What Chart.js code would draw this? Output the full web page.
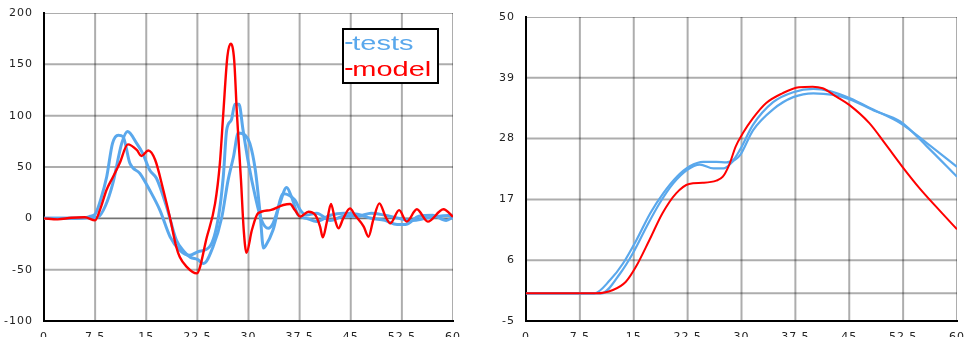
<!DOCTYPE html>
<html>
<head>
<meta charset="utf-8">
<script src="https://cdn.jsdelivr.net/npm/chart.js@4.4.1/dist/chart.umd.min.js"></script>
<style>
  html, body { margin: 0; padding: 0; background: #fff; overflow: hidden; }
  body { width: 966px; height: 337px; position: relative; }
  .panel { position: absolute; top: 0; height: 337px; }
  .panel canvas { display: block; }
  #left-wrap { left: 0; width: 480px; }
  #right-wrap { left: 486px; width: 490px; }
  #legend {
    position: absolute; left: 342px; top: 28px; width: 93px; height: 52px;
    border: 2px solid #000; background: #fff;
    font-family: "Liberation Sans", Arial, sans-serif; font-size: 21px; line-height: 26px;
  }
  #legend div { transform: scaleX(1.38); transform-origin: 0 50%; white-space: nowrap; padding-left: 1px; }
  #legend span.dash { display: inline-block; width: 5px; height: 2px; vertical-align: middle; position: relative; top: -1px; }
</style>
</head>
<body>
<div id="left-wrap" class="panel"><canvas id="left-chart" width="480" height="337"></canvas></div>
<div id="right-wrap" class="panel"><canvas id="right-chart" width="490" height="337"></canvas></div>
<div id="legend"></div>
<script>
const seriesNames = ["tests", "model"];
const testColor = "#5aa8ec";
const modelColor = "#ff0000";

// left panel: oscillating response
const leftX = [0, 7.5, 15, 22.5, 30, 37.5, 45, 52.5, 60];
const leftY = [-100, -50, 0, 50, 100, 150, 200];

const leftTestA_t = [0, 3, 6, 6.8, 7.5, 8.3, 9.2, 10.05, 10.9, 11.6, 12.6, 14.06, 15.5, 17, 18.5, 19.9, 21.4, 22.6, 24.3, 25.6, 26.3, 26.8, 27.5, 28, 28.6, 29.2, 30, 31, 31.9, 32.9, 33.6, 34.6, 35.6, 36.3, 37.3, 38.5, 40, 42, 44, 46, 48, 50, 51.8, 53, 55, 57, 59, 60];
const leftTestA_v = [0, 0, 0.5, 2, 4, 18, 40.5, 73, 81, 79.5, 53.6, 43.8, 27.6, 8, -18, -31, -36, -32.5, -27.6, 1.6, 40.5, 86, 96, 111, 111, 86, 53.6, 21, -1.6, -9.7, -4.9, 14.6, 30, 21, 3.2, 0, -3, 3, 5, 4, 0, -2, -6, -6, 2, 3, -2, 1];

const leftTestB_t = [0, 4, 7, 7.9, 9, 10.1, 11.4, 12.25, 13.6, 14.5, 15.5, 16.5, 18, 19.4, 20.5, 21.5, 22.5, 23.4, 24.8, 26.1, 27, 27.8, 28.5, 29.5, 30.2, 31, 31.7, 32.2, 32.5, 33.6, 35.1, 36.8, 37.6, 38.5, 40, 42, 44, 46, 48, 50, 52, 54, 56, 58, 60];
const leftTestB_v = [0, 0, 0.5, 1, 12, 34, 73, 84.5, 73, 63, 47, 39, 11, -21, -32, -38, -40, -44, -27.7, 1.6, 37, 60, 83, 81, 73, 47, 4.9, -29, -27, -11.4, 24, 17.8, 8, 3.2, 5, -2, 2, 2, 5, 3, 0, -2, 0, 2, 3];

const leftModel_t = [0, 2, 4, 6, 7.5, 8.3, 9.17, 10.1, 11.1, 12.3, 13.6, 14.3, 15.3, 16.3, 17.5, 18.5, 19.4, 19.9, 20.9, 22.4, 23.9, 25.1, 25.8, 26.3, 26.9, 27.4, 27.9, 28.3, 28.9, 29.3, 29.7, 30.5, 31.4, 33.2, 35.1, 36.1, 36.8, 37.6, 38.8, 39.8, 40.5, 40.9, 41.5, 42.1, 42.7, 43.2, 43.9, 44.9, 45.6, 46.9, 47.6, 48.3, 49.2, 50.1, 50.8, 52.1, 53.2, 54.7, 56.3, 58.6, 60];
const leftModel_v = [0, -1, 0.5, 1, -2, 10, 27.6, 40, 53.6, 72, 66.6, 60.7, 66, 57, 27.6, 0, -27.7, -37.4, -47, -53.6, -18, 14.6, 53.6, 102, 157.5, 170, 154, 102, 37, -11.4, -33.5, -11.4, 4.9, 8, 13, 14, 8, 1.6, 6.4, 3.2, -8, -18.5, -3.3, 14, -1.6, -9.7, 0, 9.7, 3.2, -8, -18, -1.6, 14.6, 1.6, -4.9, 8, -3.2, 8.8, -3.2, 8.8, 1.6];

// right panel: rise and decay
const rightX = [0, 7.5, 15, 22.5, 30, 37.5, 45, 52.5, 60];
const rightY = [-5, 6, 17, 28, 39, 50];
const rightRules = [0];

const rightTestA_t = [0, 9.5, 11.7, 13.5, 15.4, 17.3, 19.1, 21, 22.8, 24.7, 26.5, 27.9, 28.9, 29.8, 31.6, 34.4, 37.2, 40, 42.3, 45.1, 48.4, 52.1, 55.8, 60];
const rightTestA_v = [0, 0, 2.4, 5.4, 9.7, 14.5, 18.1, 21.1, 23, 23.8, 23.8, 23.7, 24.2, 26, 30.5, 34.6, 36.4, 37, 36.6, 35.3, 33.2, 30.8, 27.2, 22.9];

const rightTestB_t = [0, 10.5, 13.1, 14.9, 16.8, 18.6, 20.5, 22.4, 24.2, 26.1, 27.5, 28.9, 29.8, 31.6, 34.4, 37.2, 40, 42.8, 45.1, 48.4, 52.1, 55.8, 60];
const rightTestB_v = [0, 0, 3.6, 7.3, 12.1, 16.3, 19.9, 22.3, 23.3, 22.6, 22.6, 24, 25, 29.5, 33.3, 35.5, 36.2, 35.9, 35.1, 33.1, 31.1, 26.6, 21.1];

const rightModel_t = [0, 9.7, 12.1, 13.9, 15.3, 17.2, 19, 20.9, 22.7, 24.6, 26.5, 27.4, 28.3, 29.2, 30.2, 31.6, 33.4, 35.7, 38, 39.9, 41.3, 43.2, 45, 47.8, 50.1, 52.4, 54.8, 57.5, 60];
const rightModel_v = [0, 0, 0.6, 2.1, 4.8, 9.7, 14.5, 18.1, 19.8, 20, 20.4, 21.1, 23.3, 26.6, 29, 31.7, 34.4, 36.2, 37.3, 37.4, 37.1, 35.6, 34.1, 30.8, 26.9, 22.9, 19, 15.1, 11.6];

const gridGray = "rgba(0,0,0,0.32)";
const zeroGray = "rgba(0,0,0,0.55)";

function pts(ts, vs) {
  return ts.map((t, i) => ({ x: t, y: vs[i] }));
}

function line(label, ts, vs, color, width, order) {
  return {
    label,
    data: pts(ts, vs),
    borderColor: color,
    borderWidth: width,
    pointRadius: 0,
    fill: false,
    cubicInterpolationMode: "monotone",
    order,
  };
}

// straight grey rules at each tick (the scale's own grid stays off)
function rules(xTicks, yTicks, extraY) {
  const x0 = xTicks[0], x1 = xTicks[xTicks.length - 1];
  const y0 = yTicks[0], y1 = yTicks[yTicks.length - 1];
  const out = [];
  xTicks.slice(1).forEach((v) => {
    out.push({ data: [{ x: v, y: y0 }, { x: v, y: y1 }], borderColor: gridGray, borderWidth: 2, pointRadius: 0, tension: 0, order: 10 });
  });
  yTicks.slice(1).concat(extraY).forEach((v) => {
    out.push({ data: [{ x: x0, y: v }, { x: x1, y: v }], borderColor: v === 0 ? zeroGray : gridGray, borderWidth: v === 0 ? 1.6 : 2, pointRadius: 0, tension: 0, order: 10 });
  });
  return out;
}

// wide tick lettering
const spacedText = {
  id: "spacedText",
  beforeDraw(chart) {
    chart.ctx.letterSpacing = "1px";
  },
};

function makeChart(id, datasets, xTicks, yTicks, opts) {
  return new Chart(document.getElementById(id), {
    type: "line",
    data: { datasets },
    plugins: [spacedText],
    options: {
      responsive: false,
      animation: false,
      events: [],
      layout: { padding: { top: opts.top, right: opts.right, left: 0, bottom: 0 } },
      plugins: { legend: { display: false }, tooltip: { enabled: false } },
      scales: {
        x: {
          type: "linear",
          min: xTicks[0],
          max: xTicks[xTicks.length - 1],
          afterBuildTicks: (scale) => { scale.ticks = xTicks.map((v) => ({ value: v })); },
          afterFit: (scale) => { scale.height = 16; },
          ticks: {
            autoSkip: false, maxRotation: 0, padding: 2, color: "#222",
            font: { family: "DejaVu Sans", size: 11 },
            callback: (v) => String(v),
          },
          grid: { display: false },
          border: { color: "#000", width: 2 },
        },
        y: {
          type: "linear",
          min: yTicks[0],
          max: yTicks[yTicks.length - 1],
          afterBuildTicks: (scale) => { scale.ticks = yTicks.map((v) => ({ value: v })); },
          afterFit: (scale) => { scale.width = opts.axisWidth; },
          ticks: {
            padding: 3, color: "#222",
            font: { family: "DejaVu Sans", size: 11 },
            callback: (v) => String(v),
          },
          grid: { display: false },
          border: { color: "#000", width: 2 },
        },
      },
    },
  });
}

makeChart("left-chart", [
  line(seriesNames[1], leftModel_t, leftModel_v, modelColor, 2.4, 0),
  line(seriesNames[0], leftTestA_t, leftTestA_v, testColor, 3, 1),
  line(seriesNames[0], leftTestB_t, leftTestB_v, testColor, 3, 1),
  ...rules(leftX, leftY, []),
], leftX, leftY, { top: 13, right: 27, axisWidth: 44 });

makeChart("right-chart", [
  line(seriesNames[1], rightModel_t, rightModel_v, modelColor, 2, 0),
  line(seriesNames[0], rightTestA_t, rightTestA_v, testColor, 2.2, 1),
  line(seriesNames[0], rightTestB_t, rightTestB_v, testColor, 2.2, 1),
  ...rules(rightX, rightY, rightRules).map((d) => Object.assign(d, { borderColor: gridGray, borderWidth: 2 })),
], rightX, rightY, { top: 17, right: 19, axisWidth: 40 });

const legend = document.getElementById("legend");
legend.innerHTML = [
  [seriesNames[0], testColor],
  [seriesNames[1], modelColor],
].map(([name, color]) =>
  `<div style="color:${color}"><span class="dash" style="background:${color}"></span>${name}</div>`
).join("");
</script>
</body>
</html>
